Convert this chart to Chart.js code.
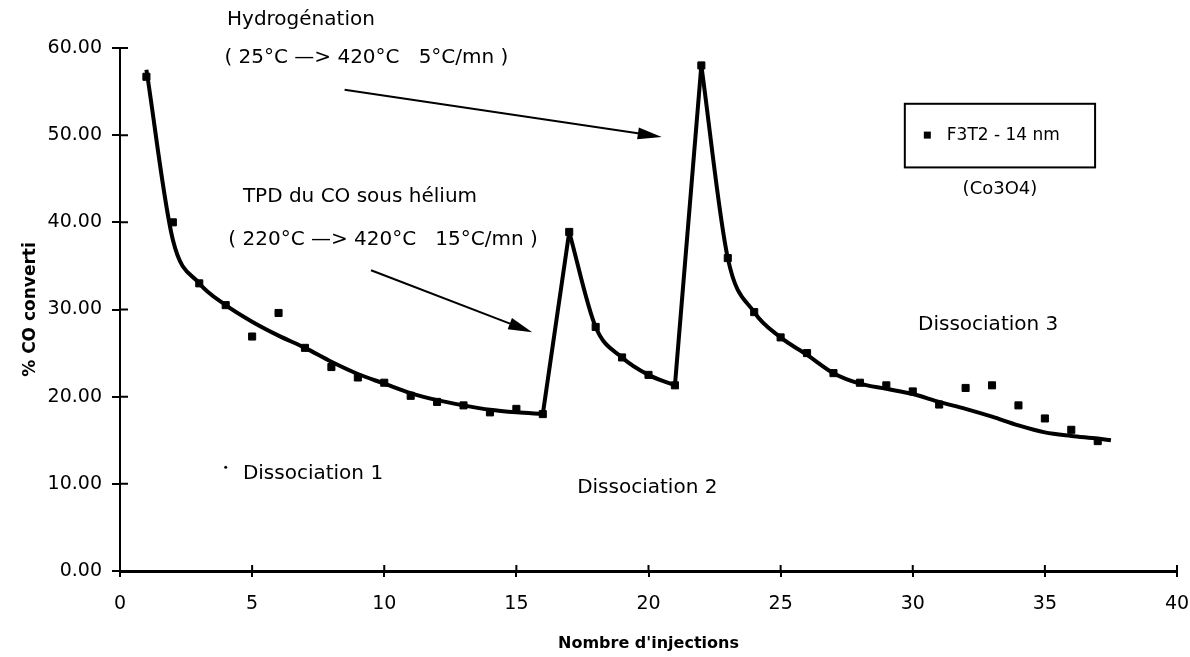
<!DOCTYPE html>
<html>
<head>
<meta charset="utf-8">
<script src="https://cdn.jsdelivr.net/npm/chart.js@4"></script>
<style>
  body { margin: 0; background: #fff; }
  #wrap { width: 1190px; height: 657px; }
</style>
</head>
<body>
<div id="wrap"><canvas id="myChart" width="1190" height="657"></canvas></div>
<script>
// measured points (injection number, % CO converted)
let injections = [1, 2, 3, 4, 5, 6, 7, 8, 9, 10, 11, 12, 13, 14, 15, 16, 17, 18, 19, 20, 21, 22, 23, 24, 25, 26, 27, 28, 29, 30, 31, 32, 33, 34, 35, 36, 37];
let coConverti = [56.7, 40.0, 33.0, 30.5, 26.9, 29.6, 25.6, 23.4, 22.2, 21.6, 20.1, 19.4, 19.0, 18.2, 18.6, 18.0, 38.9, 28.0, 24.5, 22.5, 21.3, 58.0, 35.9, 29.7, 26.8, 25.0, 22.7, 21.6, 21.3, 20.6, 19.1, 21.0, 21.3, 19.0, 17.5, 16.2, 14.9];

// trend curve, three decay parts and two straight rises
let decay1X = [1, 2, 3, 4, 5, 6, 7, 8, 9, 10, 11, 12, 13, 14, 15, 16];
let decay1Y = [57.5, 38.0, 33.0, 30.5, 28.6, 27.0, 25.6, 24.0, 22.6, 21.5, 20.4, 19.6, 19.0, 18.5, 18.2, 18.0];
let decay2X = [17, 18, 19, 20, 21];
let decay2Y = [38.9, 28.0, 24.5, 22.5, 21.3];
let decay3X = [22, 23, 24, 25, 26, 27, 28, 29, 30, 31, 32, 33, 34, 35, 36, 37, 37.5];
let decay3Y = [58.0, 35.9, 29.7, 26.8, 24.8, 22.7, 21.5, 20.9, 20.3, 19.4, 18.6, 17.7, 16.7, 15.9, 15.5, 15.2, 15.0];
let rise1X = [16, 17];
let rise1Y = [18.0, 38.9];
let rise2X = [21, 22];
let rise2Y = [21.3, 58.0];

let xTicks = [0, 5, 10, 15, 20, 25, 30, 35, 40];
let yTicks = [0, 10, 20, 30, 40, 50, 60];

let legendLabel = "F3T2 - 14 nm";
let fontName = "'DejaVu Sans', sans-serif";

function toPoints(xs, ys) {
  let pts = [];
  for (let i = 0; i < xs.length; i++) {
    pts.push({ x: xs[i], y: ys[i] });
  }
  return pts;
}

function curveDataset(xs, ys, tension) {
  return {
    type: "line",
    data: toPoints(xs, ys),
    borderColor: "#000",
    borderWidth: 4,
    pointRadius: 0,
    tension: tension,
    cubicInterpolationMode: tension > 0 ? "monotone" : "default",
    fill: false,
  };
}

// text, arrows, cross ticks and legend box, anchored on data values
const notes = {
  id: "notes",
  afterDatasetsDraw(chart) {
    let c = chart.ctx;
    let xs = chart.scales.x;
    let ys = chart.scales.y;
    let px = (v) => xs.getPixelForValue(v);
    let py = (v) => ys.getPixelForValue(v);

    c.save();
    c.fillStyle = "#000";
    c.strokeStyle = "#000";

    // inner half of the crossing tick marks
    c.lineWidth = 2;
    c.beginPath();
    xTicks.forEach((v) => {
      c.moveTo(px(v), py(0));
      c.lineTo(px(v), py(0) - 6);
    });
    yTicks.forEach((v) => {
      c.moveTo(px(0), py(v));
      c.lineTo(px(0) + 8, py(v));
    });
    c.stroke();

    c.font = "20px " + fontName;
    c.textBaseline = "middle";
    c.textAlign = "left";
    c.fillText("Hydrogénation", px(4.05), py(63.2));
    c.fillText("( 25°C —> 420°C   5°C/mn )", px(3.95), py(58.9));
    c.fillText("TPD du CO sous hélium", px(4.65), py(42.9));
    c.fillText("( 220°C —> 420°C   15°C/mn )", px(4.1), py(38.0));
    c.fillText("Dissociation 1", px(4.65), py(11.2));
    c.fillText("Dissociation 2", px(17.3), py(9.6));
    c.fillText("Dissociation 3", px(30.2), py(28.2));
    c.font = "18px " + fontName;
    c.textAlign = "center";
    c.fillText("(Co3O4)", px(33.3), py(43.8));

    c.beginPath();
    c.arc(px(4.0), py(11.9), 1.5, 0, Math.PI * 2);
    c.fill();

    drawArrow(c, px(8.5), py(55.2), px(20.5), py(49.8));
    drawArrow(c, px(9.5), py(34.5), px(15.6), py(27.4));

    // legend box
    let bx = px(29.7), by = py(53.6);
    let bw = px(36.9) - bx, bh = py(46.3) - by;
    c.lineWidth = 2;
    c.strokeRect(bx, by, bw, bh);
    c.fillRect(bx + 19, by + bh / 2 - 4, 7, 7);
    c.font = "17px " + fontName;
    c.textAlign = "left";
    c.fillText(legendLabel, bx + 42, by + bh / 2);
    c.restore();
  },
};

function drawArrow(c, x1, y1, x2, y2) {
  let a = Math.atan2(y2 - y1, x2 - x1);
  c.lineWidth = 2;
  c.beginPath();
  c.moveTo(x1, y1);
  c.lineTo(x2 - 14 * Math.cos(a), y2 - 14 * Math.sin(a));
  c.stroke();
  c.beginPath();
  c.moveTo(x2, y2);
  c.lineTo(x2 - 24 * Math.cos(a) + 6 * Math.sin(a), y2 - 24 * Math.sin(a) - 6 * Math.cos(a));
  c.lineTo(x2 - 24 * Math.cos(a) - 6 * Math.sin(a), y2 - 24 * Math.sin(a) + 6 * Math.cos(a));
  c.closePath();
  c.fill();
}

const ctx = document.getElementById("myChart");

new Chart(ctx, {
  type: "scatter",
  data: {
    datasets: [
      {
        data: toPoints(injections, coConverti),
        backgroundColor: "#000",
        borderColor: "#000",
        pointStyle: "rect",
        pointRadius: 5,
        showLine: false,
      },
      curveDataset(decay1X, decay1Y, 0.4),
      curveDataset(rise1X, rise1Y, 0),
      curveDataset(decay2X, decay2Y, 0.4),
      curveDataset(rise2X, rise2Y, 0),
      curveDataset(decay3X, decay3Y, 0.4),
    ],
  },
  plugins: [notes],
  options: {
    responsive: false,
    animation: false,
    layout: {
      padding: { top: 48, right: 0, left: 0, bottom: 0 },
    },
    scales: {
      x: {
        type: "linear",
        min: 0,
        max: 40,
        afterBuildTicks: (axis) => {
          axis.ticks = xTicks.map((v) => ({ value: v }));
        },
        afterFit: (axis) => {
          axis.height = 86;
          axis.paddingRight = 13;
        },
        grid: {
          drawOnChartArea: false,
          color: "#000",
          tickLength: 6,
          lineWidth: 2,
        },
        border: { color: "#000", width: 3 },
        ticks: {
          color: "#000",
          font: { family: fontName, size: 19 },
          padding: 16,
          maxRotation: 0,
        },
        title: {
          display: true,
          text: "Nombre d'injections",
          color: "#000",
          font: { family: fontName, size: 16, weight: "bold" },
          padding: { top: 8, bottom: 4 },
        },
      },
      y: {
        type: "linear",
        min: 0,
        max: 60,
        afterBuildTicks: (axis) => {
          axis.ticks = yTicks.map((v) => ({ value: v }));
        },
        afterFit: (axis) => {
          axis.width = 120;
        },
        grid: {
          drawOnChartArea: false,
          color: "#000",
          tickLength: 8,
          lineWidth: 2,
        },
        border: { color: "#000", width: 2 },
        ticks: {
          color: "#000",
          font: { family: fontName, size: 19 },
          padding: 10,
          callback: (v) => v.toFixed(2),
        },
        title: {
          display: true,
          text: "% CO converti",
          color: "#000",
          font: { family: fontName, size: 17, weight: "bold" },
          padding: { top: 20, bottom: 0 },
        },
      },
    },
    plugins: {
      legend: { display: false },
      tooltip: { enabled: false },
    },
  },
});
</script>
</body>
</html>
